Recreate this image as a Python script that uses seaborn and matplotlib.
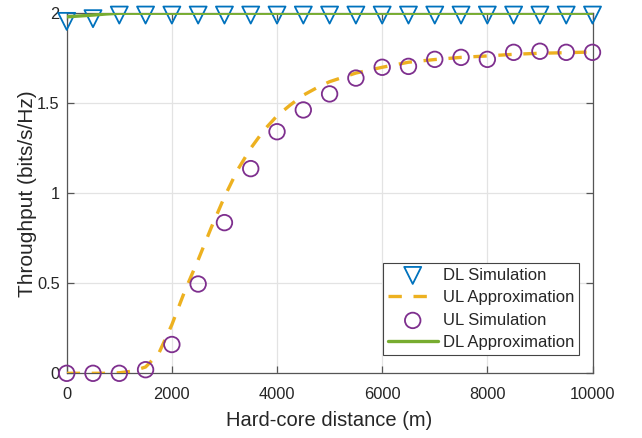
import numpy as np
import pandas as pd
import matplotlib
matplotlib.use("Agg")
import matplotlib.pyplot as plt
import seaborn as sns

# Hard-core distance grid for the simulations (m)
sim_distance = [0, 500, 1000, 1500, 2000, 2500, 3000, 3500, 4000, 4500, 5000,
                5500, 6000, 6500, 7000, 7500, 8000, 8500, 9000, 9500, 10000]
dl_simulation = [1.955, 1.97, 1.99, 1.99, 1.99, 1.99, 1.99, 1.99, 1.99, 1.99, 1.99,
                 1.99, 1.99, 1.99, 1.99, 1.99, 1.99, 1.99, 1.99, 1.99, 1.99]
ul_simulation = [0.0, 0.0, 0.0, 0.02, 0.16, 0.496, 0.837, 1.137, 1.342, 1.463, 1.552,
                 1.64, 1.70, 1.705, 1.744, 1.755, 1.744, 1.783, 1.789, 1.783, 1.783]

# Analytical approximations
approx_distance = [0, 250, 500, 750, 1000, 1250, 1500, 1750, 2000, 2250, 2500, 2750,
                   3000, 3250, 3500, 3750, 4000, 4250, 4500, 4750, 5000, 5500, 6000,
                   6500, 7000, 7500, 8000, 8500, 9000, 9500, 10000]
ul_approximation = [0.0, 0.0, 0.0, 0.0, 0.003, 0.012, 0.035, 0.11, 0.27, 0.46, 0.63, 0.81,
                    0.98, 1.13, 1.25, 1.35, 1.43, 1.49, 1.545, 1.585, 1.62, 1.668, 1.70,
                    1.728, 1.743, 1.755, 1.763, 1.772, 1.778, 1.781, 1.785]
dl_approximation = [1.98, 1.985, 1.99, 1.996, 2.0, 2.0, 2.0, 2.0, 2.0, 2.0, 2.0, 2.0,
                    2.0, 2.0, 2.0, 2.0, 2.0, 2.0, 2.0, 2.0, 2.0, 2.0, 2.0,
                    2.0, 2.0, 2.0, 2.0, 2.0, 2.0, 2.0, 2.0]

x_ticks = [0, 2000, 4000, 6000, 8000, 10000]
y_ticks = [0, 0.5, 1, 1.5, 2]
y_tick_labels = ["0", "0.5", "1", "1.5", "2"]

sim_df = pd.DataFrame({"d": sim_distance, "dl": dl_simulation, "ul": ul_simulation})
approx_df = pd.DataFrame({"d": approx_distance, "ul": ul_approximation, "dl": dl_approximation})

sns.set_style("white")
plt.rcParams["font.family"] = ["Liberation Sans", "DejaVu Sans"]

BLUE = "#0072BD"
ORANGE = "#EDB120"
PURPLE = "#7E2F8E"
GREEN = "#77AC30"
TEXT = "#262626"

fig = plt.figure(figsize=(6.42, 4.38), dpi=100)
ax = fig.add_axes([0.1039, 0.1477, 0.819, 0.822])

sns.scatterplot(data=sim_df, x="d", y="dl", ax=ax, marker="v", s=150,
                facecolors="none", edgecolor=BLUE, linewidth=1.3,
                label="DL Simulation", clip_on=False, zorder=3)
sns.lineplot(data=approx_df, x="d", y="ul", ax=ax, color=ORANGE, linewidth=2.4,
             dashes=False, label="UL Approximation", zorder=4)
ax.lines[-1].set_linestyle((0, (4, 3.5)))
sns.scatterplot(data=sim_df, x="d", y="ul", ax=ax, marker="o", s=125,
                facecolors="none", edgecolor=PURPLE, linewidth=1.3,
                label="UL Simulation", clip_on=False, zorder=5)
sns.lineplot(data=approx_df, x="d", y="dl", ax=ax, color=GREEN, linewidth=2.4,
             label="DL Approximation", zorder=6)

ax.set_xlim(0, 10000)
ax.set_ylim(0, 2)
ax.set_xticks(x_ticks)
ax.set_xticklabels([str(t) for t in x_ticks])
ax.set_yticks(y_ticks)
ax.set_yticklabels(y_tick_labels)
ax.grid(True, color="#e3e3e3", linewidth=0.9)
ax.set_axisbelow(True)

for side in ["left", "right", "top", "bottom"]:
    ax.spines[side].set_visible(True)
    ax.spines[side].set_color("#555555")
    ax.spines[side].set_linewidth(0.9)
ax.tick_params(direction="in", length=5, width=0.9, color="#555555",
               labelsize=11.8, labelcolor=TEXT, top=True, right=True,
               bottom=True, left=True)
ax.tick_params(axis="x", pad=9.5)
ax.tick_params(axis="y", pad=5)

ax.set_xlabel("Hard-core distance (m)", fontsize=14.5, color=TEXT)
ax.set_ylabel("Throughput (bits/s/Hz)", fontsize=15, color=TEXT)
ax.xaxis.set_label_coords(0.5, -0.105)
ax.yaxis.set_label_coords(-0.057, 0.5)

handles, labels = ax.get_legend_handles_labels()
leg = ax.legend(handles, labels, loc="lower right", bbox_to_anchor=(0.9745, 0.05),
                fontsize=12, frameon=True, fancybox=False, framealpha=1,
                edgecolor="#444444", borderpad=0.3, labelspacing=0.45,
                handlelength=3.0, handletextpad=0.3, borderaxespad=0)
leg.get_frame().set_linewidth(0.8)
for t in leg.get_texts():
    t.set_color(TEXT)

fig.savefig("out.png", dpi=100)
